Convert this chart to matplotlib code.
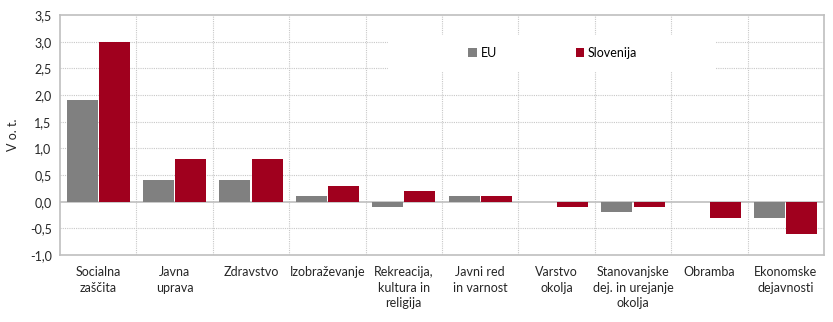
import matplotlib
matplotlib.use("Agg")
import matplotlib.pyplot as plt
import numpy as np
from matplotlib.patches import Rectangle

categories = ["Socialna\nzaščita", "Javna\nuprava", "Zdravstvo", "Izobraževanje",
              "Rekreacija,\nkultura in\nreligija", "Javni red\nin varnost", "Varstvo\nokolja",
              "Stanovanjske\ndej. in urejanje\nokolja", "Obramba", "Ekonomske\ndejavnosti"]
eu = [1.9, 0.4, 0.4, 0.1, -0.1, 0.1, 0.0, -0.2, 0.0, -0.3]
slo = [3.0, 0.8, 0.8, 0.3, 0.2, 0.1, -0.1, -0.1, -0.3, -0.6]
yticks = [-1.0, -0.5, 0.0, 0.5, 1.0, 1.5, 2.0, 2.5, 3.0, 3.5]

plt.rcParams['font.family'] = ['Lato', 'DejaVu Sans']
fig = plt.figure(figsize=(8.33, 3.22), dpi=100)
ax = fig.add_axes([60/833, 1-255/322, 764/833, 240/322])

x = np.arange(len(categories))
w = 0.405
c_eu = "#808080"
c_slo = "#A0001E"
ax.bar(x - 0.21, eu, w, color=c_eu, label="EU", zorder=3)
ax.bar(x + 0.21, slo, w, color=c_slo, label="Slovenija", zorder=3)

ax.set_xlim(-0.5, len(categories) - 0.5)
ax.set_ylim(-1.0, 3.5)
ax.set_yticks(yticks)
ax.set_yticklabels([f"{v:.1f}".replace(".", ",") for v in yticks], fontsize=9, color="#262626")
ax.set_xticks(x)
ax.set_xticklabels(categories, fontsize=9, color="#262626", linespacing=1.35)
ax.tick_params(length=0, pad=6)
ax.tick_params(axis='x', pad=8)

for v in yticks[1:-1]:
    if v != 0:
        ax.axhline(v, color="#C8C8C8", lw=0.8, ls=(0, (1, 1)), zorder=1)
for b in np.arange(0.5, len(categories) - 0.5, 1.0):
    ax.axvline(b, color="#C8C8C8", lw=0.8, ls=(0, (1, 1)), zorder=1)
ax.axhline(0, color="#BFBFBF", lw=1.2, zorder=2)

for s in ax.spines.values():
    s.set_color("#BFBFBF")
    s.set_linewidth(1.2)

ax.set_ylabel("V o. t.", fontsize=9, color="#262626", labelpad=8)

ax.add_patch(Rectangle((0.429, 2.43), 0.43, 0.70, transform=ax.get_yaxis_transform(),
                       facecolor="white", edgecolor="none", zorder=2))
ax.legend(loc="center", bbox_to_anchor=(0.645, 0.842), ncol=2, frameon=False,
          fontsize=9, handlelength=0.7, handleheight=0.7, handletextpad=0.3,
          columnspacing=6.3)

fig.savefig("out.png", dpi=100, facecolor="white")
